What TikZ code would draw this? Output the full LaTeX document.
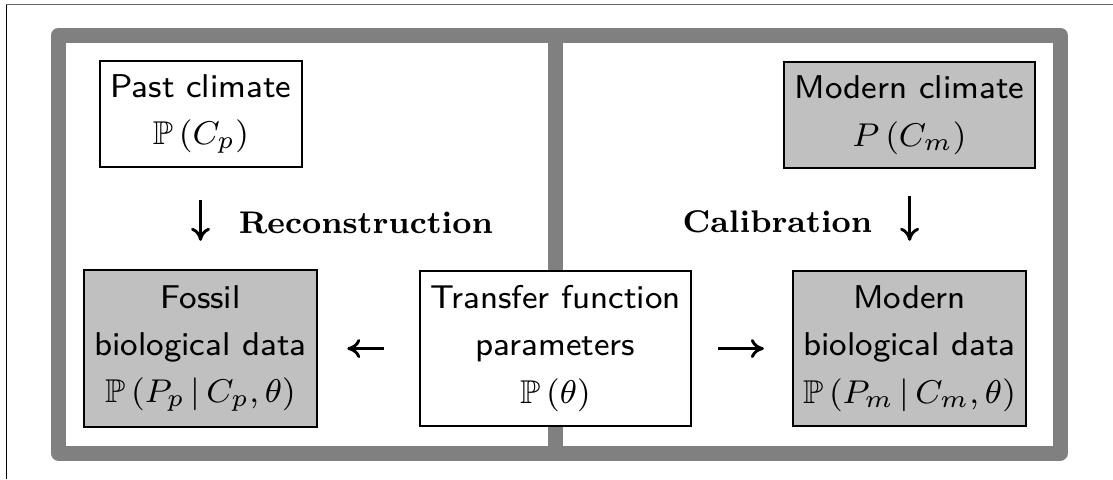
\documentclass[tikz,border=0pt]{standalone}
\usepackage{amssymb}
\usetikzlibrary{arrows.meta}
\definecolor{framegray}{RGB}{128,128,128}
\definecolor{boxgray}{RGB}{192,192,192}
\def\nodescale{2.06}
\begin{document}
\begin{tikzpicture}[
  scale=\nodescale, x=0.242718pt, y=-0.242718pt,
  box/.style={draw, line width=0.6pt, inner sep=0pt, align=center, transform shape,
    font=\fontsize{8}{11.5}\selectfont\sffamily},
  greybox/.style={box, fill=boxgray},
  whitebox/.style={box, fill=white},
  steplabel/.style={inner sep=0pt, transform shape, font=\fontsize{7.6}{10}\selectfont\bfseries},
  flow/.style={line width=1.45pt, -{Computer Modern Rightarrow[length=6.5pt,width=9.5pt]}}
]
\useasboundingbox (0,0) rectangle (1113,479);
% page edge
\draw[black!60, line width=0.7pt] (1113,4.5) -- (6,4.5);
\draw[black, line width=0.5pt] (6,4.5) -- (6,479);
% thick frame with its middle divider
\draw[framegray, line width=7.5pt, line join=round] (58.5,35) rectangle (1060,453);
\draw[framegray, line width=7.7pt] (555.5,35) -- (555.5,453);
% boxes
\node[whitebox, minimum width=101pt/\nodescale, minimum height=53pt/\nodescale] (past) at (201,114)
  {Past climate\\ $\mathbb{P}\left(C_p\right)$};
\node[greybox, minimum width=125.5pt/\nodescale, minimum height=53pt/\nodescale] (mclim) at (909.5,115)
  {Modern climate\\ $P\left(C_m\right)$};
\node[greybox, minimum width=116.5pt/\nodescale, minimum height=78.5pt/\nodescale] (fossil) at (200.5,348.5)
  {Fossil\\ biological data\\ $\mathbb{P}\left(P_p\,|\,C_p,\theta\right)$};
\node[whitebox, minimum width=135.5pt/\nodescale, minimum height=77.5pt/\nodescale] (trans) at (555.5,348.5)
  {Transfer function\\ parameters\\ $\mathbb{P}\left(\theta\right)$};
\node[greybox, minimum width=116.5pt/\nodescale, minimum height=77.5pt/\nodescale] (mbio) at (909.5,348.5)
  {Modern\\ biological data\\ $\mathbb{P}\left(P_m\,|\,C_m,\theta\right)$};
% step labels
\node[steplabel, anchor=base west] (recon) at (238,233) {Reconstruction};
\node[steplabel, anchor=base east] (calib) at (873,232) {Calibration};
% arrows
\draw[flow, shorten <=16pt, shorten >=14pt] (past.south -| fossil.north) -- (fossil.north);
\draw[flow, shorten <=13.5pt, shorten >=14.5pt] (mclim.south) -- (mclim.south |- mbio.north);
\draw[flow, shorten <=17.5pt, shorten >=14.5pt] (trans.west) -- (fossil.east);
\draw[flow, shorten <=13pt, shorten >=14pt] (trans.east) -- (mbio.west);
\end{tikzpicture}
\end{document}
